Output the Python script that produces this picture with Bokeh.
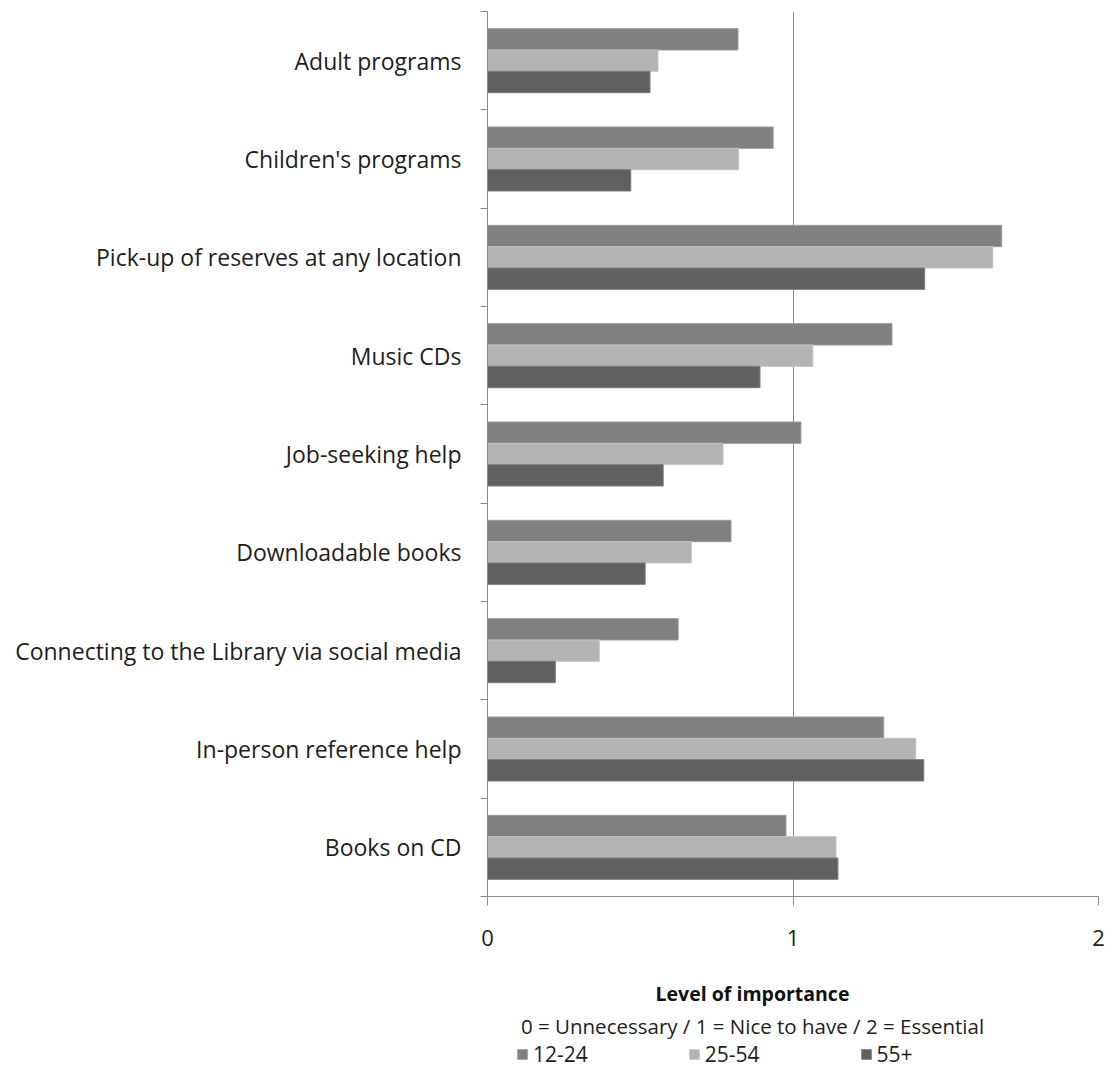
from bokeh.plotting import figure
from bokeh.layouts import column
from bokeh.models import (ColumnDataSource, Range1d, LinearAxis, FixedTicker, Label, Legend, LegendItem)
from bokeh.embed import file_html
from bokeh.resources import INLINE

categories = ["Adult programs", "Children's programs", "Pick-up of reserves at any location",
              "Music CDs", "Job-seeking help", "Downloadable books",
              "Connecting to the Library via social media", "In-person reference help", "Books on CD"]
v_12_24 = [0.82, 0.935, 1.683, 1.324, 1.026, 0.797, 0.624, 1.297, 0.977]
v_25_54 = [0.558, 0.822, 1.654, 1.065, 0.771, 0.667, 0.366, 1.402, 1.141]
v_55p = [0.532, 0.469, 1.431, 0.892, 0.575, 0.516, 0.222, 1.428, 1.147]
series = ["12-24", "25-54", "55+"]
colors = ["#808080", "#b3b3b3", "#606060"]
edges = ["#9a9a9a", "#c4c4c4", "#7a7a7a"]
x_ticks = [0, 1, 2]
axis_title = "Level of importance"
axis_subtitle = "0 = Unnecessary / 1 = Nice to have / 2 = Essential"

FONT = "Open Sans"
GRAY = "#8a8a8a"
TXT = "#1e1e1e"
W = 1106
LEFT, RIGHT = 487, 8
n = len(categories)
centers = [n - 0.5 - i for i in range(n)]
h = 0.217

src = ColumnDataSource(dict(
    cat=categories,
    ya=[c + h for c in centers], yb=centers, yc=[c - h for c in centers],
    a=v_12_24, b=v_25_54, c=v_55p))

p = figure(width=W, height=960, output_backend="svg", toolbar_location=None,
           y_range=Range1d(0, n), x_range=Range1d(0, 2),
           y_axis_location=None, x_axis_location=None,
           min_border_left=LEFT, min_border_right=RIGHT, min_border_top=11, min_border_bottom=64)
p.outline_line_color = None
p.background_fill_color = "white"
p.border_fill_color = "white"

# category axis: labels at centres, tick marks at boundaries (as minor ticks)
cat_axis = LinearAxis(ticker=FixedTicker(ticks=centers, minor_ticks=list(range(n + 1))),
                      major_label_overrides={c: lab for c, lab in zip(centers, categories)},
                      axis_line_color=GRAY, major_tick_line_color=None, major_tick_out=0, major_tick_in=0,
                      minor_tick_line_color=GRAY, minor_tick_out=7, minor_tick_in=0,
                      major_label_text_font=FONT, major_label_text_font_size="23px",
                      major_label_text_color=TXT, major_label_standoff=19)
p.add_layout(cat_axis, "left")

x_axis = LinearAxis(ticker=FixedTicker(ticks=x_ticks), axis_line_color=GRAY, major_tick_line_color=GRAY,
                    major_tick_out=9, major_tick_in=0, minor_tick_line_color=None,
                    major_label_text_font=FONT, major_label_text_font_size="22px",
                    major_label_text_color=TXT, major_label_standoff=24)
p.add_layout(x_axis, "below")

p.xgrid.ticker = FixedTicker(ticks=[1, 2])
p.xgrid.grid_line_color = GRAY
p.ygrid.grid_line_color = None

renderers = []
for col_y, col_x, fc, lc in zip(["ya", "yb", "yc"], ["a", "b", "c"], colors, edges):
    renderers.append(p.hbar(y=col_y, left=0, right=col_x, height=h, source=src,
                            fill_color=fc, line_color=lc, line_width=1))

# bottom strip: axis title, subtitle and legend (frame aligned with the plot frame,
# its x range expressed in page pixels)
q = figure(width=W, height=109, output_backend="svg", toolbar_location=None,
           x_range=Range1d(LEFT, W - RIGHT), y_range=Range1d(0, 109),
           x_axis_location=None, y_axis_location=None,
           min_border_left=LEFT, min_border_right=RIGHT, min_border_top=0, min_border_bottom=0)
q.outline_line_color = None
q.grid.grid_line_color = None
q.border_fill_color = "white"

q.add_layout(Label(x=752, y=76, text=axis_title, text_font=FONT, text_font_size="19.5px",
                   text_font_style="bold", text_align="center", text_baseline="middle",
                   text_color="#111111"))
q.add_layout(Label(x=752, y=44, text=axis_subtitle, text_font=FONT, text_font_size="20.5px",
                   text_align="center", text_baseline="middle", text_color=TXT))

# legend proxies: zero-width bars placed outside the visible strip
proxy = ColumnDataSource(dict(y=[-500], l=[LEFT], r=[LEFT]))
leg_r = [q.hbar(y="y", left="l", right="r", height=1, source=proxy, fill_color=fc, line_color=lc)
         for fc, lc in zip(colors, edges)]
legend = Legend(items=[LegendItem(label=s, renderers=[r]) for s, r in zip(series, leg_r)],
                orientation="horizontal", location=(516 - LEFT, 1), spacing=100, padding=0, margin=0,
                glyph_width=12, glyph_height=12, label_text_font=FONT, label_text_font_size="21px",
                label_text_color=TXT, border_line_color=None, background_fill_alpha=0,
                label_standoff=5)
q.add_layout(legend, "center")

layout = column(p, q, spacing=0)
open("out.html", "w").write(file_html(layout, INLINE))
